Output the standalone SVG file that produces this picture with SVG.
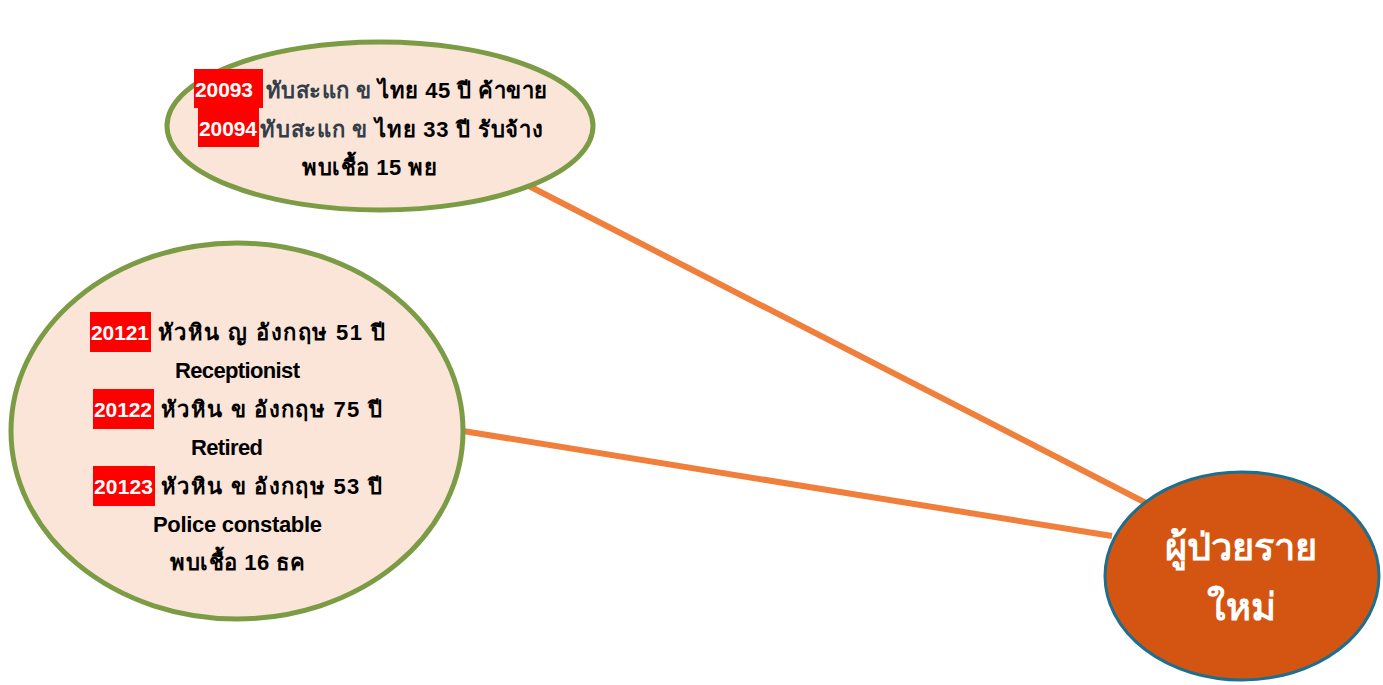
<svg xmlns="http://www.w3.org/2000/svg" width="1383" height="685" viewBox="0 0 1383 685">
<style>
.bub{fill:#FBE5D9;stroke:#7B9C45;stroke-width:5}
.t{font-family:"Liberation Sans","Noto Sans","DejaVu Sans",sans-serif;font-weight:bold;font-size:22px;fill:#000}
.num{font-family:"Liberation Sans","Noto Sans",sans-serif;font-weight:bold;font-size:21px;fill:#fff}
.red{fill:#FF0000}
.g{fill:#333E48}
.w{font-family:"Liberation Sans","Noto Sans","DejaVu Sans",sans-serif;font-weight:bold;font-size:38px;fill:#fff;text-anchor:middle}
.c{stroke:#F07F3C;stroke-width:6;fill:none}
</style>
<rect width="1383" height="685" fill="#fff"/>
<g id="connectors">
<line class="c" x1="527" y1="185" x2="1146" y2="503"/>
<line class="c" x1="463" y1="431" x2="1112" y2="536"/>
</g>
<g id="node-top">
<ellipse class="bub" cx="380" cy="126" rx="213" ry="84"/>
<rect class="red" x="194" y="69" width="69" height="39"/>
<rect class="red" x="198" y="108" width="61" height="39"/>
<text class="num" x="195" y="97" textLength="58" lengthAdjust="spacing">20093</text>
<text class="num" x="199" y="136" textLength="58" lengthAdjust="spacing">20094</text>
<text class="t" x="266" y="98" textLength="281" lengthAdjust="spacing"><tspan class="g">ทับสะแก ข</tspan> ไทย 45 ปี ค้าขาย</text>
<text class="t" x="260" y="137" textLength="283" lengthAdjust="spacing"><tspan class="g">ทับสะแก ข</tspan> ไทย 33 ปี รับจ้าง</text>
<text class="t" x="302" y="175" textLength="135" lengthAdjust="spacing">พบเชื้อ 15 พย</text>
</g>
<g id="node-left">
<ellipse class="bub" cx="237" cy="431" rx="226" ry="188"/>
<rect class="red" x="90" y="312" width="61" height="40"/>
<rect class="red" x="93" y="389" width="61" height="40"/>
<rect class="red" x="93" y="466" width="62" height="40"/>
<text class="num" x="91" y="340" textLength="58" lengthAdjust="spacing">20121</text>
<text class="num" x="94" y="417" textLength="58" lengthAdjust="spacing">20122</text>
<text class="num" x="94" y="494" textLength="59" lengthAdjust="spacing">20123</text>
<text class="t" x="158" y="340" textLength="227" lengthAdjust="spacing">หัวหิน ญ อังกฤษ 51 ปี</text>
<text class="t" x="175" y="378" textLength="125" lengthAdjust="spacing">Receptionist</text>
<text class="t" x="161" y="417" textLength="221" lengthAdjust="spacing">หัวหิน ข อังกฤษ 75 ปี</text>
<text class="t" x="191" y="455" textLength="72" lengthAdjust="spacing">Retired</text>
<text class="t" x="161" y="494" textLength="221" lengthAdjust="spacing">หัวหิน ข อังกฤษ 53 ปี</text>
<text class="t" x="153" y="532" textLength="169" lengthAdjust="spacing">Police constable</text>
<text class="t" x="170" y="570" textLength="135" lengthAdjust="spacing">พบเชื้อ 16 ธค</text>
</g>
<g id="node-right">
<ellipse cx="1242" cy="576" rx="137" ry="104" fill="#D45511" stroke="#1C6F8E" stroke-width="3"/>
<text class="w" x="1241" y="560">ผู้ป่วยราย</text>
<text class="w" x="1241" y="620">ใหม่</text>
</g>
</svg>
